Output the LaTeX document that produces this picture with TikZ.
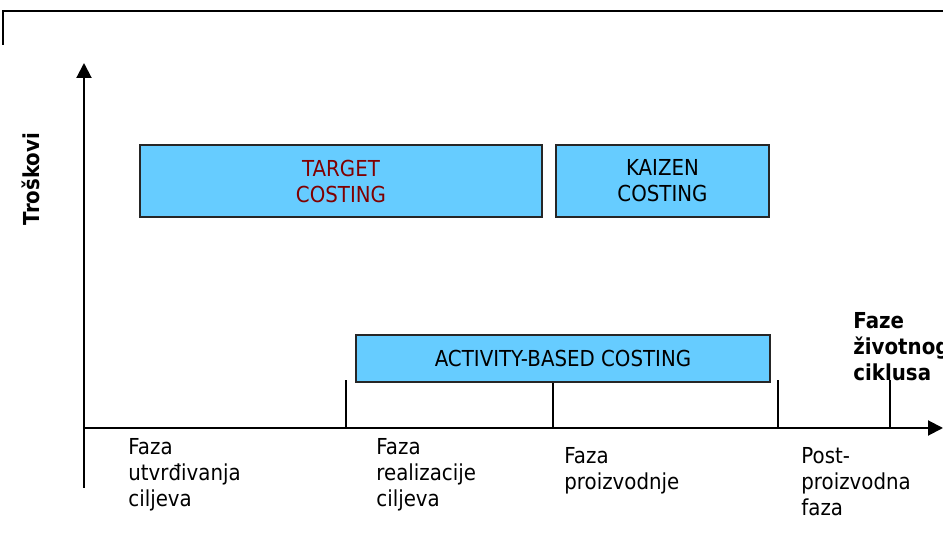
\documentclass[tikz,border=0pt]{standalone}
\usepackage{fontspec}
\setmainfont[FakeStretch=0.9]{DejaVu Sans}
\usepackage{tikz}
\usetikzlibrary{arrows.meta, positioning}
\definecolor{boxblue}{HTML}{66CCFF}
\definecolor{darkred}{HTML}{800000}

\begin{document}
\begin{tikzpicture}[
        x=0.5pt, y=-0.5pt,
        txt/.style={font=\fontsize{11}{13}\selectfont, inner sep=0pt, align=left},
        box/.style={rectangle, draw=black!85, line width=1pt, outer sep=0pt, fill=boxblue, minimum height=36pt, font=\fontsize{11}{13}\selectfont, align=center},
        axis/.style={line width=1pt, -{Triangle[length=7.5pt, width=7.5pt]}},
        tickline/.style={line width=1pt},
        phase/.style={txt, anchor=north west}
    ]
        \useasboundingbox (0,0) rectangle (943,533);

        % frame
        \draw[line width=1pt] (3,45) |- (950,11);

        % axes
        \coordinate (origin) at (84,428);
        \coordinate (ytop) at (84,63);
        \coordinate (ybot) at (84,488);
        \coordinate (xend) at (943,428);
        \draw[axis] (ybot) -- (ytop);
        \draw[axis] (origin) -- (xend);

        \foreach \x/\n in {346/a, 553/b, 778/c, 890/d} {
            \coordinate (tick\n) at (\x,428);
            \draw[tickline] (tick\n) -- ++(0,-48);
        }

        % costing methods
        \node[box, minimum width=201pt, text=darkred] (target) at (341,181) {TARGET\\COSTING};
        \node[box, minimum width=106.5pt, right=7pt of target] (kaizen) {KAIZEN\\COSTING};
        \node[box, minimum width=207pt, minimum height=23.5pt] (abc) at (563,358.5) {ACTIVITY-BASED COSTING};

        % axis labels
        \node[txt, font=\fontsize{11}{13}\selectfont\bfseries, rotate=90] (costs) at (31,179) {Troškovi};
        \node[phase, font=\fontsize{11}{13}\selectfont\bfseries] (phases) at (853,312) {Faze\\životnog\\ciklusa};

        % phases
        \node[phase, below right=5pt and 22pt of origin] (ph1) {Faza\\utvrđivanja\\ciljeva};
        \node[phase, below right=5pt and 15pt of ticka] (ph2) {Faza\\realizacije\\ciljeva};
        \node[phase, below right=9.5pt and 5.5pt of tickb] (ph3) {Faza\\proizvodnje};
        \node[phase, below right=9.5pt and 11.5pt of tickc] (ph4) {Post-\\proizvodna\\faza};
    \end{tikzpicture}
\end{document}
